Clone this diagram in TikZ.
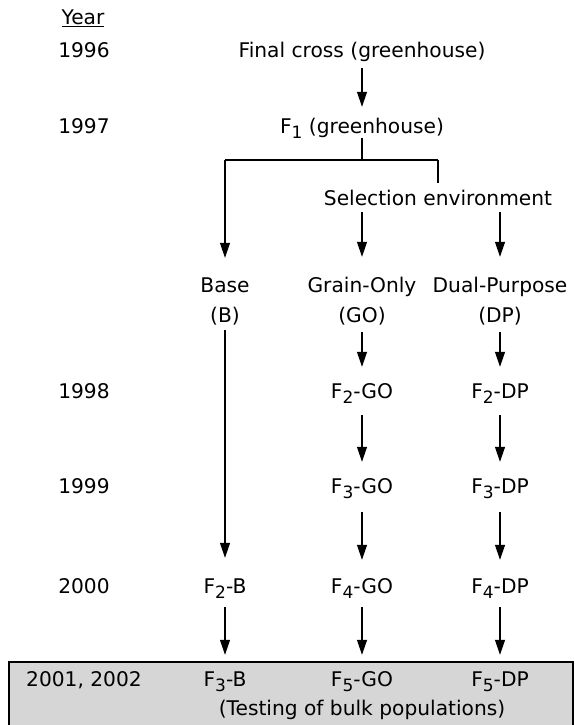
\documentclass[tikz,border=0pt]{standalone}
\usepackage{fontspec}
\setmainfont{DejaVu Sans}
\usetikzlibrary{arrows.meta}
\newcommand{\Fsub}[1]{F\raisebox{-5pt}{\fontsize{17}{17}\selectfont #1}}
\definecolor{boxgray}{RGB}{214,214,214}
\begin{document}
\begin{tikzpicture}[x=1pt,y=-1pt,
  lbl/.style={inner sep=0pt, text height=15pt, text depth=5pt, anchor=base, font=\fontsize{20.2}{24}\selectfont},
  arr/.style={line width=1.2pt, -{Triangle[width=10pt,length=15pt]}},
  ln/.style={line width=1.2pt}]
\useasboundingbox (0,0) rectangle (575,725);
\begin{scope}
\clip (0,0) rectangle (575,725);
\draw[ln, fill=boxgray] (9,662) rectangle (573,740);
\end{scope}
% year column
\node[lbl] (year) at (83,25) {\underline{Year}};
\node[lbl] (y96) at (84,57) {1996};
\node[lbl] (y97) at (84,133) {1997};
\node[lbl] (y98) at (84,398) {1998};
\node[lbl] (y99) at (84,493) {1999};
\node[lbl] (y00) at (84,593) {2000};
\node[lbl] (y01) at (84,686) {2001, 2002};
% top
\node[lbl] (final) at (362,57) {Final cross (greenhouse)};
\node[lbl] (f1) at (362,133) {\Fsub{1} (greenhouse)};
\coordinate (jc) at (362,160);
\coordinate (jl) at (225,160);
\coordinate (jr) at (438,160);
\node[lbl] (sel) at (438,205) {Selection environment};
% labels
\node[lbl] (base) at (225,292) {Base};
\node[lbl] (go) at (362,292) {Grain-Only};
\node[lbl] (dp) at (500,292) {Dual-Purpose};
\node[lbl] (bB) at (225,322) {(B)};
\node[lbl] (bGO) at (362,322) {(GO)};
\node[lbl] (bDP) at (500,322) {(DP)};
% generations
\node[lbl] (f2go) at (362,398) {\Fsub{2}-GO};
\node[lbl] (f2dp) at (500,398) {\Fsub{2}-DP};
\node[lbl] (f3go) at (362,493) {\Fsub{3}-GO};
\node[lbl] (f3dp) at (500,493) {\Fsub{3}-DP};
\node[lbl] (f2b) at (225,593) {\Fsub{2}-B};
\node[lbl] (f4go) at (362,593) {\Fsub{4}-GO};
\node[lbl] (f4dp) at (500,593) {\Fsub{4}-DP};
\node[lbl] (f3b) at (225,686) {\Fsub{3}-B};
\node[lbl] (f5go) at (362,686) {\Fsub{5}-GO};
\node[lbl] (f5dp) at (500,686) {\Fsub{5}-DP};
\node[lbl] (test) at (362,715) {(Testing of bulk populations)};
% connectors
\draw[arr, shorten <=6pt, shorten >=11pt] (final.south) -- (f1.north);
\draw[ln] (f1.south) -- (jc);
\draw[ln] (jl) -- (jr);
\draw[ln, shorten >=7pt] (jr) -- (sel.north -| jr);
\draw[arr, shorten >=19pt] (jl) -- (base.north);
\draw[arr, shorten <=2pt, shorten >=20pt] (sel.south -| go.north) -- (go.north);
\draw[arr, shorten <=2pt, shorten >=20pt] (sel.south -| dp.north) -- (dp.north);
\draw[arr, shorten <=3pt, shorten >=20pt] (bB.south) -- (f2b.north);
\draw[arr, shorten <=5pt, shorten >=16pt] (bGO.south) -- (f2go.north);
\draw[arr, shorten <=5pt, shorten >=16pt] (bDP.south) -- (f2dp.north);
\draw[arr, shorten <=12pt, shorten >=16pt] (f2go.south) -- (f3go.north);
\draw[arr, shorten <=12pt, shorten >=16pt] (f2dp.south) -- (f3dp.north);
\draw[arr, shorten <=14pt, shorten >=18pt] (f3go.south) -- (f4go.north);
\draw[arr, shorten <=14pt, shorten >=18pt] (f3dp.south) -- (f4dp.north);
\draw[arr, shorten <=9pt, shorten >=16pt] (f2b.south) -- (f3b.north);
\draw[arr, shorten <=9pt, shorten >=16pt] (f4go.south) -- (f5go.north);
\draw[arr, shorten <=9pt, shorten >=16pt] (f4dp.south) -- (f5dp.north);
\end{tikzpicture}
\end{document}
